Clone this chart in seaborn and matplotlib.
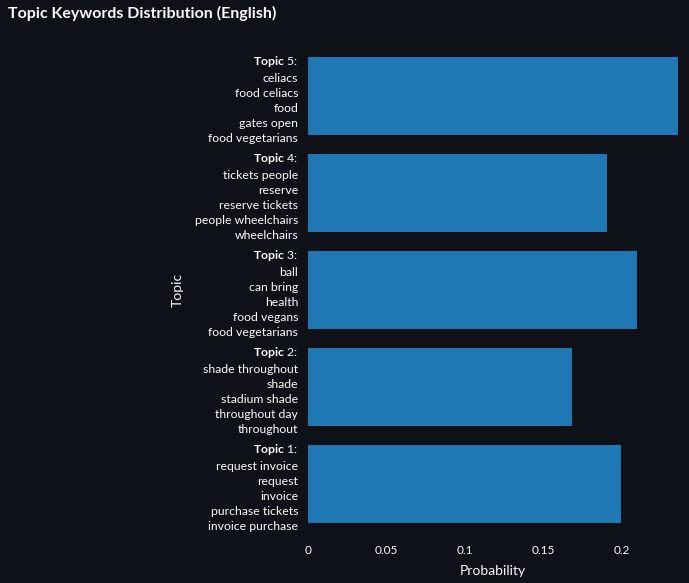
import pandas as pd
import numpy as np
import seaborn as sns
import matplotlib.pyplot as plt
from matplotlib.ticker import FuncFormatter

# Data
topics = ['Topic 5', 'Topic 4', 'Topic 3', 'Topic 2', 'Topic 1']
topic_nums = [5, 4, 3, 2, 1]
probabilities = [0.2357, 0.1904, 0.2096, 0.168, 0.1994]
keywords = [
    ['celiacs', 'food celiacs', 'food', 'gates open', 'food vegetarians'],
    ['tickets people', 'reserve', 'reserve tickets', 'people wheelchairs', 'wheelchairs'],
    ['ball', 'can bring', 'health', 'food vegans', 'food vegetarians'],
    ['shade throughout', 'shade', 'stadium shade', 'throughout day', 'throughout'],
    ['request invoice', 'request', 'invoice', 'purchase tickets', 'invoice purchase'],
]

data = pd.DataFrame({'topic': topics, 'probability': probabilities})

bg = '#0e1117'
fg = '#fafafa'
sns.set_theme(style='dark')
plt.rcParams['font.family'] = ['Lato', 'DejaVu Sans']
plt.rcParams['mathtext.fontset'] = 'custom'
plt.rcParams['mathtext.rm'] = 'Lato'
plt.rcParams['mathtext.bf'] = 'Lato:bold'

fig = plt.figure(figsize=(6.89, 5.83), dpi=100, facecolor=bg)
ax = fig.add_axes([0.447, 0.086, 0.537, 0.833])
ax.set_facecolor(bg)

sns.barplot(data=data, x='probability', y='topic', order=topics,
            color='#1f77b4', saturation=1, width=0.8, linewidth=0, ax=ax)

labels = [r'$\bf{Topic}$ ' + f'{n}:\n' + '\n'.join(kw) for n, kw in zip(topic_nums, keywords)]
ax.set_yticks(range(len(topics)))
ax.set_yticklabels(labels, fontsize=8.8, color=fg, linespacing=1.45)
ax.set_xlim(0, max(probabilities))
ax.set_xticks([0, 0.05, 0.1, 0.15, 0.2])
ax.xaxis.set_major_formatter(FuncFormatter(lambda v, p: f'{v:g}'))
ax.tick_params(axis='x', colors=fg, labelsize=8.5, length=0, pad=9)
ax.tick_params(axis='y', length=0, pad=7)
for s in ax.spines.values():
    s.set_visible(False)
ax.grid(False)

ax.set_xlabel('Probability', color=fg, fontsize=10, labelpad=6)
ax.set_ylabel('Topic', color=fg, fontsize=10, labelpad=8)

fig.text(0.012, 0.99, 'Topic Keywords Distribution (English)', color=fg,
         fontsize=11.5, fontweight='bold', va='top', ha='left')

plt.savefig('out.png', dpi=100, facecolor=bg)
